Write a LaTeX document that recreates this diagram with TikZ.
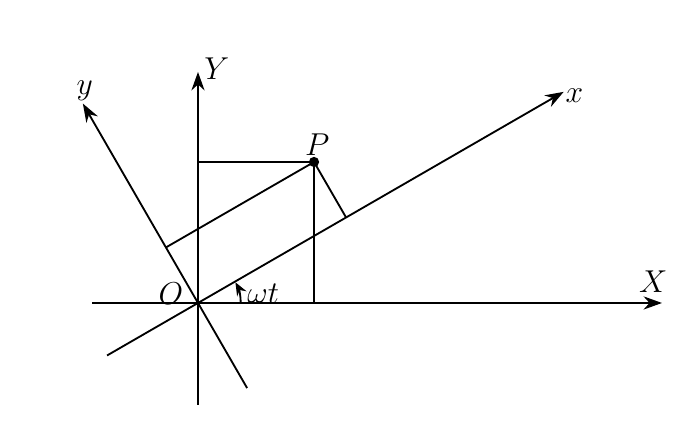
\documentclass[tikz,border=0pt]{standalone}
\usepackage{amsmath}
\usetikzlibrary{arrows.meta}

\begin{document}
\begin{tikzpicture}[line width=0.7pt, >={Stealth[length=7pt,width=5pt]},
  every node/.style={font=\fontsize{11.5}{14}\selectfont}]
\useasboundingbox (-2.64,-1.787) rectangle (6.587,4.04);
\coordinate (O) at (0,0);
\coordinate (P) at (1.547,1.88);
\coordinate (Px) at (30:2.28);
\coordinate (Py) at (120:0.855);
% fixed axes
\draw[->] (-1.413,0)--(6.187,0);
\draw[->] (0,-1.36)--(0,3.08);
% rotated axes
\draw[->] (210:1.4)--(30:5.63);
\draw[->] (300:1.31)--(120:3.07);
% projections of P
\draw (P)--(0,1.88);
\draw (P)--(1.547,0);
\draw (P)--(Px);
\draw (P)--(Py);
\filldraw (P) circle[radius=0.055];
% angle
\draw[-{Stealth[length=5pt,width=4pt]}] (0:0.57) arc[start angle=0, end angle=29, radius=0.57];
\draw node at (0.87,0.12) {$\omega t$};
\draw node at (-0.36,0.13) {$O$};
\draw node at (1.59,2.11) {$P$};
\draw node at (6.07,0.28) {$X$};
\draw node at (0.25,3.13) {$Y$};
\draw node at (5.02,2.76) {$x$};
\draw node at (-1.51,2.83) {$y$};
\end{tikzpicture}
\end{document}
